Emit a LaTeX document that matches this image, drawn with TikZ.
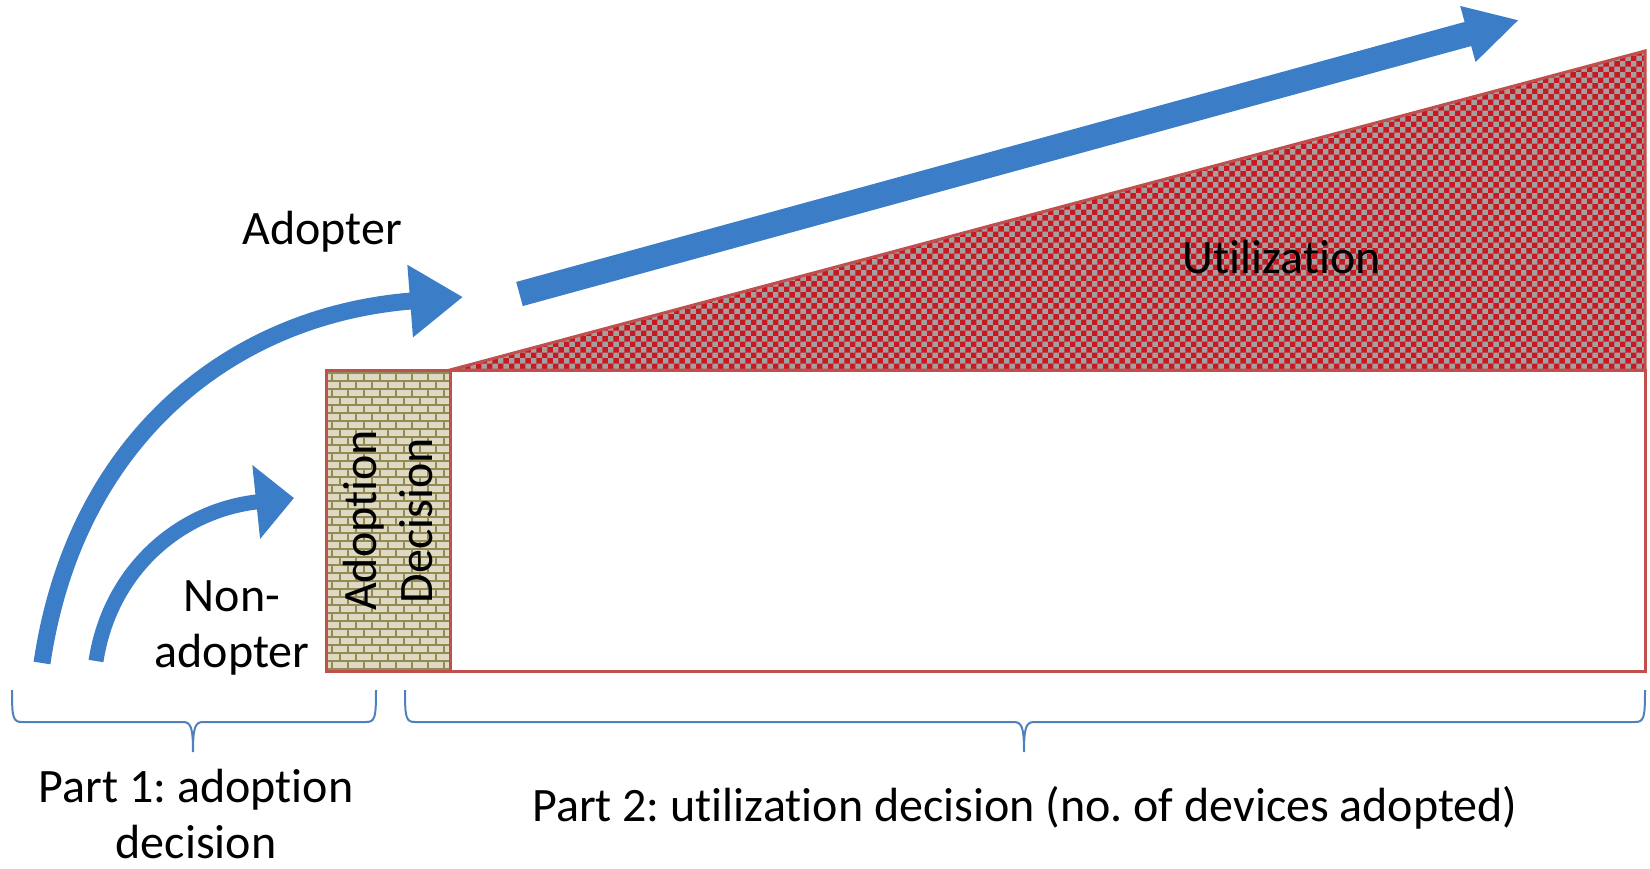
\documentclass[tikz,border=0pt]{standalone}
\usepackage{fontspec}
\setmainfont{Carlito}[Ligatures=NoCommon]
\usetikzlibrary{arrows.meta,patterns}
\definecolor{flowblue}{RGB}{60,125,200}
\definecolor{edgered}{RGB}{192,80,77}
\definecolor{bricktan}{RGB}{221,217,195}
\definecolor{brickline}{RGB}{148,138,84}
\definecolor{checkred}{RGB}{200,25,35}
\definecolor{checkgray}{RGB}{165,160,160}
\definecolor{braceblue}{RGB}{79,129,189}
\pgfdeclarepatternformonly{brickwall}{\pgfpoint{-1pt}{-1pt}}{\pgfpoint{17pt}{17pt}}{\pgfpoint{16pt}{16pt}}{
  \pgfsetlinewidth{1.6pt}
  \pgfpathmoveto{\pgfpoint{0pt}{0pt}}\pgfpathlineto{\pgfpoint{16pt}{0pt}}
  \pgfpathmoveto{\pgfpoint{0pt}{8pt}}\pgfpathlineto{\pgfpoint{16pt}{8pt}}
  \pgfpathmoveto{\pgfpoint{4pt}{0pt}}\pgfpathlineto{\pgfpoint{4pt}{8pt}}
  \pgfpathmoveto{\pgfpoint{12pt}{8pt}}\pgfpathlineto{\pgfpoint{12pt}{16pt}}
  \pgfusepath{stroke}}
\frenchspacing

\begin{document}
\begin{tikzpicture}[x=1pt, y=-1pt,
  lbl/.style={font=\fontsize{48}{56}\selectfont, inner sep=0pt, align=center},
  redline/.style={draw=edgered, line width=3pt},
  brickbox/.style={redline, preaction={fill=bricktan}, pattern=brickwall,
    pattern color=brickline, inner sep=0pt},
  flow/.style={draw=flowblue, line width=#1},
  bracket/.style={draw=braceblue, line width=2pt}
]
\useasboundingbox (0,0) rectangle (1650,869);

% utilization wedge and box
\coordinate (wl) at (450,370);
\coordinate (wt) at (1645,51);
\coordinate (wr) at (1645,370);
\path[redline, preaction={fill=checkgray}, pattern=checkerboard,
  pattern color=checkred] (wl) -- (wt) -- (wr) -- cycle;
\node[redline, fill=white, minimum width=1195pt, minimum height=301pt,
  inner sep=0pt] (use) at (1047.5,520.5) {};
\node[brickbox, lbl, rotate=90, minimum width=301pt, minimum height=124pt]
  (dec) at (388,520.5) {Adoption\\Decision};

% arrows
\coordinate (a0) at (42,663);
\coordinate (a1) at (463,297);
\coordinate (n0) at (96,661);
\coordinate (n1) at (294,498);
\coordinate (u0) at (519.5,294);
\coordinate (u1) at (1519,20);
\draw[flow=17pt, -{Triangle[width=69pt,length=53pt]}]
  (a0) .. controls (75,440) and (230,315) .. (a1);
\draw[flow=15pt, -{Triangle[width=72pt,length=38pt]}]
  (n0) .. controls (110,570) and (180,510) .. (n1);
\draw[flow=25pt, -{Triangle[width=54pt,length=53pt]}] (u0) -- (u1);

% labels
\node[lbl, anchor=base] (adopter) at (322,245) {Adopter};
\node[lbl, anchor=base] (util) at (1282,274) {Utilization};
\node[lbl, anchor=base] (nonad) at (232,667) {Non-\\adopter};
\node[lbl, anchor=base] (part1) at (196,858) {Part 1: adoption\\decision};
\node[lbl, anchor=base] (part2) at (1025,821) {Part 2: utilization decision (no. of devices adopted)};

% braces
\coordinate (b1) at (193,752);
\coordinate (b2) at (1024,752);
\draw[bracket] (12,690) .. controls (12,718) and (13,722) .. (22,722) -- (183,722)
  .. controls (191,722) and (193,728) .. (b1)
  .. controls (193,728) and (195,722) .. (203,722) -- (366,722)
  .. controls (375,722) and (376,718) .. (376,690);
\draw[bracket] (405,690) .. controls (405,718) and (406,722) .. (415,722) -- (1014,722)
  .. controls (1022,722) and (1024,728) .. (b2)
  .. controls (1024,728) and (1026,722) .. (1034,722) -- (1635,722)
  .. controls (1644,722) and (1645,718) .. (1645,690);
\end{tikzpicture}
\end{document}
